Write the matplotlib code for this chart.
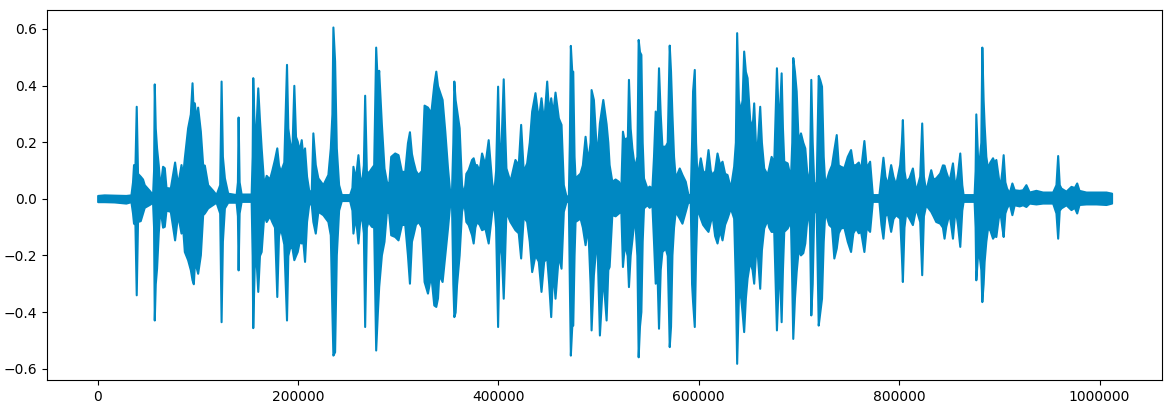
import matplotlib
matplotlib.use("Agg")
import matplotlib.pyplot as plt
import numpy as np

# waveform envelope: position (thousands of samples), peak max, peak min
pos_k = [
    0, 6.5, 16.5, 28.2, 33.2, 34.8, 35.8, 37.2, 38.5, 39.8, 42.5, 44.8, 46.5, 51.5, 54.8,
    55.8, 56.5, 57.5, 58.8, 60.5, 62.2, 64.8, 66.5, 68.2, 72.5, 76.8, 79.8, 83.2, 84.8, 86.5,
    89.8, 92.5, 94.2, 95.5, 96.5, 98.2, 99.8, 102.5, 104.8, 106.5, 109.8, 114.8, 118.2, 121.8,
    123.2, 124.5, 126.5, 129.8, 138.2, 139.5, 140.2, 141.2, 143.2, 153.2, 154.2, 154.8, 156.2,
    157.5, 159.8, 161.5, 163.2, 165.8,
    168.2, 171.5, 173.8, 176.5, 178.8, 180.5, 182.5, 185.8, 188.5, 189.8, 191.5, 193.8, 195.8,
    197.5, 199.2, 201.2, 203.2, 204.8, 206.5, 208.5, 210.8, 213.2, 214.8, 217.2, 219.8, 224.8,
    229.8, 232.2, 233.8, 234.8, 236.5, 238.2, 240.5, 243.2, 251.5, 253.8, 254.8, 257.2, 259.8,
    261.5, 263.2, 265.2, 266.5, 268.2, 269.8, 273.2, 275.5, 277.5, 279.2, 280.5, 283.2, 285.8,
    288.2, 290.5, 292.5, 296.5, 299.8, 303.2, 306.5, 309.2, 311.2, 313.2, 314.8, 317.2, 319.8,
    323.2, 325.8, 329.2, 332.5, 335.5,
    337.5, 339.2, 340.5, 343.8, 346.5, 349.2, 351.5, 353.2, 354.5, 355.5, 356.8, 358.2, 360.8,
    363.2, 365.5, 367.5, 369.8, 373.2, 374.8, 376.5, 378.2, 380.8, 383.2, 386.5, 389.8, 393.2,
    395.2, 397.2, 399.2, 400.5, 402.2, 404.8, 406.2, 407.5, 411.5, 416.5, 419.8, 422.2, 424.8,
    428.2, 430.8, 433.2, 436.5, 439.8, 442.5, 445.2, 448.2, 450.2, 452.2, 454.2, 456.5, 459.8,
    462.5, 464.8, 467.5, 469.8, 470.8, 471.8, 473.2, 474.2, 475.5, 476.5, 481.5, 483.8, 486.5,
    489.2, 491.5, 492.5, 494.8, 498.2, 500.8, 504.2,
    507.5, 509.2, 510.5, 513.2, 516.5, 519.8, 522.2, 523.8, 525.8, 527.2, 528.5, 529.8, 531.5,
    533.2, 535.8, 538.2, 539.5, 540.8, 542.2, 543.5, 544.8, 548.2, 550.5, 553.2, 554.8, 556.5,
    558.2, 559.8, 561.5, 563.2, 566.5, 568.5, 570.5, 571.8, 573.2, 574.8, 576.5, 580.5, 583.2,
    586.5, 589.2, 591.5, 592.8, 593.8, 595.5, 596.8, 598.2, 601.5, 603.8, 606.5, 609.2, 611.5,
    613.2, 615.8, 618.2, 620.8, 623.2, 625.8, 628.2, 631.5, 634.8, 636.5, 637.8, 639.5, 641.5,
    643.2, 644.8, 646.5, 648.2, 650.8, 653.2, 654.8, 656.5, 658.2, 660.8, 662.5, 664.8, 668.2,
    669.8, 672.2, 674.8,
    677.5, 679.2, 680.5, 682.2, 683.5, 684.8, 688.2, 691.5, 692.8, 693.8, 695.5, 697.2, 699.2,
    701.5, 703.8, 705.8, 708.8, 710.5, 711.8, 713.2, 714.8, 717.2, 719.2, 720.8, 722.5, 724.2,
    725.8, 729.8, 732.5, 734.8, 737.2, 739.2, 741.5, 744.8, 748.2, 751.5, 753.8, 756.5, 759.2,
    761.5, 764.8, 767.2, 770.5, 773.2, 779.8, 781.8, 783.8, 785.8, 788.2, 791.5, 793.8, 796.5,
    800.5, 802.2, 803.2, 804.8, 806.5, 809.8, 813.2, 816.5, 820.5, 822.5, 824.2, 826.5, 831.5,
    833.8, 836.5, 840.5, 843.2, 844.8,
    846.5, 849.8, 853.2, 855.8, 858.2, 860.5, 862.5, 863.8, 874.8, 875.8, 876.5, 878.2, 879.8,
    881.5, 882.5, 883.8, 884.8, 886.5, 888.2, 890.5, 893.2, 894.8, 896.5, 898.8, 900.5, 902.5,
    903.8, 905.5, 907.2, 909.8, 912.5, 914.8, 919.8, 923.2, 926.5, 929.8, 936.5, 943.2, 953.2,
    956.5, 958.2, 959.8, 961.5, 966.5, 971.5, 974.8, 977.2, 979.5, 986.5, 996.5, 1006.5, 1012.0,
]

peak_max = [
    0.012, 0.014, 0.013, 0.012, 0.014, 0.06, 0.121, 0.11, 0.327, 0.09, 0.08, 0.07, 0.05, 0.03, 0.015,
    0.10, 0.406, 0.25, 0.18, 0.12, 0.038, 0.115, 0.11, 0.04, 0.038, 0.13, 0.05, 0.121, 0.08, 0.145,
    0.251, 0.30, 0.410, 0.30, 0.339, 0.28, 0.324, 0.239, 0.121, 0.119, 0.05, 0.03, 0.015, 0.05,
    0.416, 0.15, 0.074, 0.02, 0.015, 0.06, 0.289, 0.06, 0.017, 0.017, 0.15, 0.428, 0.25,
    0.209, 0.392, 0.28, 0.18, 0.050,
    0.083, 0.07, 0.10, 0.14, 0.180, 0.12, 0.097, 0.13, 0.475, 0.25, 0.204, 0.16, 0.401,
    0.22, 0.204, 0.17, 0.209, 0.15, 0.18, 0.08, 0.027, 0.03, 0.233, 0.121, 0.074, 0.050,
    0.086, 0.180, 0.3, 0.607, 0.487, 0.180, 0.05, 0.015, 0.015, 0.04, 0.115, 0.07, 0.156,
    0.08, 0.050, 0.12, 0.366, 0.10, 0.091, 0.109, 0.12, 0.536, 0.40, 0.454, 0.263, 0.109,
    0.062, 0.05, 0.150, 0.162, 0.156, 0.097, 0.097, 0.198, 0.237, 0.16, 0.133, 0.10, 0.086,
    0.10, 0.331, 0.324, 0.304, 0.404,
    0.451, 0.40, 0.386, 0.351, 0.239, 0.109, 0.021, 0.03, 0.2, 0.416, 0.35, 0.316, 0.251,
    0.050, 0.015, 0.09, 0.103, 0.139, 0.145, 0.12, 0.121, 0.10, 0.162, 0.121, 0.209, 0.062,
    0.015, 0.1, 0.398, 0.2, 0.150, 0.424, 0.25, 0.109, 0.062, 0.139, 0.12, 0.263, 0.097,
    0.127, 0.2, 0.310, 0.375, 0.28, 0.357, 0.27, 0.416, 0.30, 0.357, 0.30, 0.377, 0.286,
    0.263, 0.050, 0.009, 0.012, 0.2, 0.542, 0.45, 0.451, 0.15, 0.074, 0.091, 0.12, 0.221,
    0.133, 0.2, 0.386, 0.351, 0.145, 0.268, 0.351,
    0.265, 0.2, 0.121, 0.062, 0.07, 0.062, 0.038, 0.239, 0.2, 0.215, 0.18, 0.422, 0.25,
    0.180, 0.109, 0.15, 0.563, 0.52, 0.510, 0.2, 0.074, 0.038, 0.045, 0.038, 0.15, 0.310,
    0.25, 0.463, 0.3, 0.186, 0.186, 0.2, 0.543, 0.45, 0.298, 0.15, 0.074, 0.109, 0.086,
    0.062, 0.015, 0.015, 0.2, 0.381, 0.457, 0.2, 0.074, 0.145, 0.10, 0.091, 0.174, 0.10,
    0.086, 0.10, 0.162, 0.12, 0.133, 0.09, 0.086, 0.038, 0.115, 0.2, 0.587, 0.35, 0.310,
    0.35, 0.522, 0.45, 0.428, 0.280, 0.25, 0.339, 0.2, 0.180, 0.327, 0.2, 0.109, 0.086,
    0.11, 0.150, 0.127,
    0.463, 0.3, 0.3, 0.445, 0.25, 0.133, 0.127, 0.074, 0.2, 0.499, 0.45, 0.381, 0.2,
    0.233, 0.2, 0.180, 0.050, 0.1, 0.422, 0.2, 0.050, 0.06, 0.436, 0.42, 0.398, 0.15,
    0.050, 0.097, 0.12, 0.174, 0.227, 0.12, 0.115, 0.11, 0.150, 0.174, 0.12, 0.121, 0.13,
    0.103, 0.206, 0.11, 0.133, 0.015, 0.015, 0.08, 0.147, 0.08, 0.050, 0.121, 0.08, 0.050,
    0.121, 0.2, 0.280, 0.1, 0.062, 0.074, 0.109, 0.027, 0.08, 0.268, 0.08, 0.027, 0.103,
    0.07, 0.074, 0.091, 0.12, 0.119,
    0.097, 0.062, 0.127, 0.038, 0.09, 0.162, 0.05, 0.015, 0.015, 0.1, 0.300, 0.15, 0.133,
    0.2, 0.536, 0.35, 0.263, 0.15, 0.109, 0.13, 0.145, 0.13, 0.139, 0.08, 0.038, 0.1,
    0.156, 0.06, 0.038, 0.021, 0.056, 0.032, 0.030, 0.032, 0.050, 0.024, 0.030, 0.024, 0.024,
    0.05, 0.153, 0.05, 0.038, 0.027, 0.044, 0.04, 0.056, 0.03, 0.024, 0.024, 0.024, 0.02,
]

peak_min = [
    -0.010, -0.010, -0.011, -0.015, -0.010, -0.05, -0.086, -0.09, -0.339, -0.08, -0.077, -0.05, -0.03, -0.02, -0.012,
    -0.10, -0.428, -0.30, -0.245, -0.12, -0.032, -0.10, -0.097, -0.04, -0.044, -0.145, -0.056, -0.121, -0.10, -0.186,
    -0.215, -0.25, -0.286, -0.30, -0.233, -0.24, -0.263, -0.198, -0.056, -0.05, -0.032, -0.02, -0.012, -0.05,
    -0.434, -0.15, -0.032, -0.012, -0.012, -0.06, -0.251, -0.05, -0.009, -0.009, -0.2, -0.455, -0.25,
    -0.174, -0.327, -0.2, -0.186, -0.056,
    -0.08, -0.06, -0.08, -0.1, -0.345, -0.13, -0.103, -0.16, -0.428, -0.2, -0.174, -0.17, -0.215,
    -0.2, -0.186, -0.15, -0.156, -0.15, -0.221, -0.08, -0.015, -0.02, -0.080, -0.121, -0.044, -0.056,
    -0.080, -0.127, -0.4, -0.552, -0.540, -0.198, -0.04, -0.006, -0.006, -0.04, -0.121, -0.06, -0.156,
    -0.08, -0.056, -0.12, -0.451, -0.10, -0.080, -0.097, -0.10, -0.534, -0.40, -0.310, -0.198, -0.150,
    -0.044, -0.05, -0.127, -0.133, -0.145, -0.091, -0.09, -0.198, -0.298, -0.15, -0.127, -0.09, -0.080,
    -0.10, -0.292, -0.333, -0.268, -0.375,
    -0.380, -0.35, -0.268, -0.292, -0.198, -0.103, -0.015, -0.02, -0.3, -0.416, -0.40, -0.304, -0.198,
    -0.044, -0.009, -0.08, -0.091, -0.127, -0.156, -0.10, -0.080, -0.09, -0.109, -0.103, -0.156, -0.050,
    -0.009, -0.1, -0.451, -0.2, -0.127, -0.351, -0.2, -0.044, -0.080, -0.109, -0.12, -0.209, -0.062,
    -0.080, -0.15, -0.257, -0.198, -0.22, -0.327, -0.22, -0.209, -0.30, -0.416, -0.25, -0.351, -0.198,
    -0.245, -0.044, -0.009, -0.009, -0.3, -0.552, -0.45, -0.446, -0.2, -0.080, -0.068, -0.10, -0.162,
    -0.097, -0.3, -0.463, -0.268, -0.127, -0.481, -0.268,
    -0.428, -0.25, -0.239, -0.056, -0.06, -0.050, -0.044, -0.239, -0.16, -0.180, -0.2, -0.310, -0.2,
    -0.145, -0.056, -0.2, -0.558, -0.45, -0.398, -0.15, -0.032, -0.021, -0.03, -0.021, -0.15, -0.298,
    -0.25, -0.457, -0.25, -0.186, -0.174, -0.2, -0.522, -0.45, -0.198, -0.1, -0.044, -0.068, -0.086,
    -0.044, -0.009, -0.015, -0.3, -0.363, -0.451, -0.2, -0.032, -0.068, -0.09, -0.103, -0.115, -0.08,
    -0.056, -0.13, -0.156, -0.11, -0.145, -0.09, -0.068, -0.032, -0.068, -0.3, -0.581, -0.35, -0.339,
    -0.40, -0.469, -0.35, -0.280, -0.221, -0.25, -0.298, -0.2, -0.186, -0.316, -0.18, -0.103, -0.074,
    -0.10, -0.115, -0.115,
    -0.463, -0.3, -0.25, -0.434, -0.25, -0.115, -0.103, -0.080, -0.3, -0.493, -0.35, -0.257, -0.18,
    -0.198, -0.19, -0.156, -0.032, -0.1, -0.410, -0.3, -0.032, -0.05, -0.446, -0.40, -0.351, -0.15,
    -0.044, -0.091, -0.1, -0.209, -0.174, -0.12, -0.103, -0.10, -0.150, -0.186, -0.12, -0.103, -0.12,
    -0.115, -0.186, -0.10, -0.115, -0.009, -0.009, -0.09, -0.139, -0.06, -0.050, -0.115, -0.07, -0.056,
    -0.068, -0.2, -0.292, -0.1, -0.050, -0.068, -0.091, -0.032, -0.08, -0.268, -0.06, -0.021, -0.044,
    -0.06, -0.080, -0.086, -0.1, -0.139,
    -0.097, -0.050, -0.139, -0.032, -0.09, -0.168, -0.04, -0.009, -0.009, -0.1, -0.286, -0.2, -0.198,
    -0.25, -0.363, -0.3, -0.221, -0.15, -0.103, -0.11, -0.139, -0.13, -0.133, -0.07, -0.044, -0.1,
    -0.133, -0.05, -0.032, -0.015, -0.056, -0.021, -0.025, -0.021, -0.027, -0.015, -0.018, -0.015, -0.015,
    -0.05, -0.139, -0.04, -0.032, -0.021, -0.038, -0.03, -0.050, -0.02, -0.018, -0.018, -0.02, -0.015,
]

LINE_COLOR = "#0088c2"

samples = np.array(pos_k) * 1000

fig, ax = plt.subplots(figsize=(11.74, 4.07), dpi=100)
fig.subplots_adjust(left=0.040, right=0.990, top=0.975, bottom=0.066)

ax.fill_between(samples, peak_min, peak_max, color=LINE_COLOR, linewidth=1.5)
ax.ticklabel_format(style="plain", axis="x", useOffset=False)

fig.savefig("out.png", dpi=100)
